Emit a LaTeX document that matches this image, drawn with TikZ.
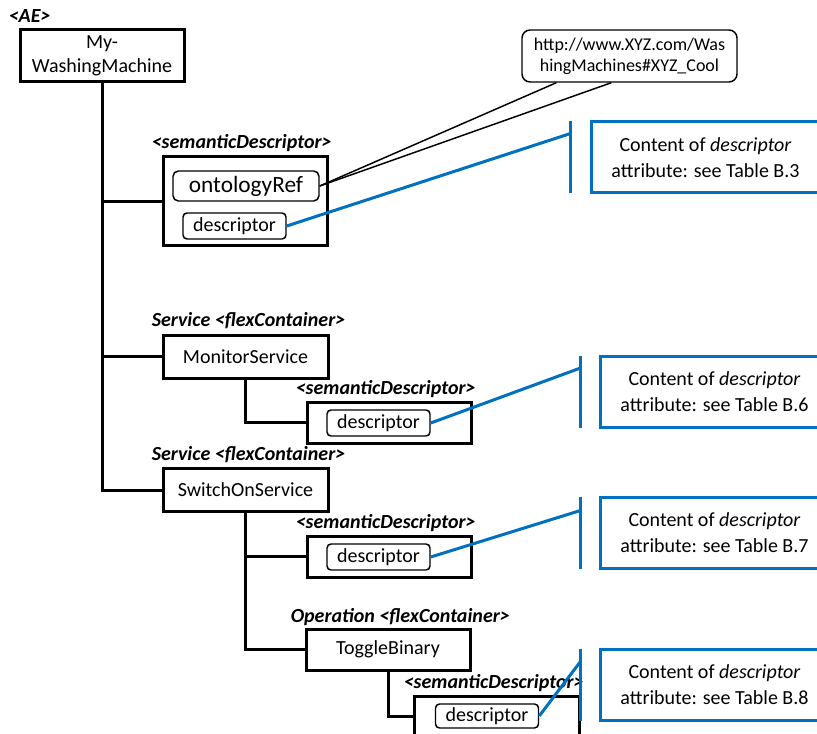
\documentclass[tikz,border=0pt]{standalone}
\usepackage{fontspec}
\setmainfont{Carlito}
\usetikzlibrary{calc}
\definecolor{bluelink}{RGB}{0,112,192}

\begin{document}
\begin{tikzpicture}[x=0.75pt,y=-0.75pt,
  font=\fontsize{15}{18}\selectfont,
  box/.style={draw,line width=2.25pt,minimum width=123pt,minimum height=32.25pt,inner sep=2pt},
  attr/.style={draw,rounded corners=3pt,line width=1.1pt,minimum width=77.25pt,minimum height=19.5pt,inner sep=1pt},
  tag/.style={anchor=base west,inner sep=0pt,font=\fontsize{15}{18}\selectfont\bfseries\itshape},
  note/.style={draw=bluelink,line width=2.25pt,minimum width=171.75pt,minimum height=53.25pt,align=center,font=\fontsize{15}{19.5}\selectfont},
  tree/.style={line width=2.25pt},
  link/.style={draw=bluelink,line width=2.25pt},
  ref/.style={line width=1.1pt}]
  \useasboundingbox (0,0) rectangle (817,734);
  \clip (0,0) rectangle (817,734);

  % resource tree
  \node[box,minimum height=39pt,align=center] (wm)  at (102,56)    {My-\\WashingMachine};
  \node[box,minimum height=66.75pt]           (sd1) at (245,201.5) {};
  \node[box,minimum width=123.75pt]           (mon) at (245.5,356.5) {MonitorService};
  \node[box,minimum height=30.75pt]           (sd2) at (389,422.5) {};
  \node[box,minimum width=123.75pt]           (sw)  at (245.5,490) {SwitchOnService};
  \node[box,minimum height=30.75pt]           (sd3) at (389,556.5) {};
  \node[box,minimum height=30.75pt]           (tog) at (388,649.5) {ToggleBinary};
  \node[box,minimum height=30.75pt,minimum width=123.75pt] (sd4) at (496.5,716.5) {};

  \node[tag] at ($(wm.north west)+(-10,-6)$)  {<AE>};
  \node[tag] at ($(sd1.north west)+(-10,-7)$) {<semanticDescriptor>};
  \node[tag] at ($(mon.north west)+(-10,-7)$) {Service <flexContainer>};
  \node[tag] at ($(sd2.north west)+(-10,-6)$) {<semanticDescriptor>};
  \node[tag] at ($(sw.north west)+(-10,-7)$)  {Service <flexContainer>};
  \node[tag] at ($(sd3.north west)+(-10,-6)$) {<semanticDescriptor>};
  \node[tag] at ($(tog.north west)+(-14,-5)$) {Operation <flexContainer>};
  \node[tag] at ($(sd4.north west)+(-9,-6)$)  {<semanticDescriptor>};

  % attributes
  \node[attr,minimum width=109.5pt,minimum height=22.5pt,rounded corners=4pt,
        font=\fontsize{17.5}{20}\selectfont] (ont) at (246,186) {ontologyRef};
  \node[attr] (d1) at (234.5,226) {descriptor};
  \node[attr] (d2) at (378.5,423) {descriptor};
  \node[attr] (d3) at (378.5,557) {descriptor};
  \node[attr,minimum height=18pt] (d4) at (487,716) {descriptor};

  % callouts
  \node[draw,rounded corners=6pt,line width=1.1pt,minimum width=161.25pt,minimum height=39pt,
        align=center,font=\fontsize{13.5}{16}\selectfont] (url) at (629.5,56)
        {http://www.XYZ.com/Was\\hingMachines\#XYZ\_Cool};
  \node[note] (n1) at (705.5,157.5) {Content of \emph{descriptor}\\attribute: see Table B.3};
  \node[note] (n2) at (714.5,392)   {Content of \emph{descriptor}\\attribute: see Table B.6};
  \node[note] (n3) at (714.5,532.5) {Content of \emph{descriptor}\\attribute: see Table B.7};
  \node[note] (n4) at (714.5,684.5) {Content of \emph{descriptor}\\attribute: see Table B.8};

  \coordinate (u1)  at ($(url.south west)+(35,0)$);
  \coordinate (u2)  at ($(url.south west)+(90,0)$);
  \coordinate (b1t) at ($(n1.north west)+(-19,1)$);
  \coordinate (b1b) at ($(n1.south west)+(-19,-1)$);
  \coordinate (b2t) at ($(n2.north west)+(-18,1)$);
  \coordinate (b2b) at ($(n2.south west)+(-18,-1)$);
  \coordinate (b3t) at ($(n3.north west)+(-18,1)$);
  \coordinate (b3b) at ($(n3.south west)+(-18,-1)$);
  \coordinate (b4t) at ($(n4.north west)+(-18,1)$);
  \coordinate (b4b) at ($(n4.south west)+(-18,-1)$);

  % tree lines
  \draw[tree] (wm.south) |- (sw.west);
  \draw[tree] (wm.south |- sd1.west) -- (sd1.west);
  \draw[tree] (wm.south |- mon.west) -- (mon.west);
  \draw[tree] (mon.south) |- (sd2.west);
  \draw[tree] (sw.south) |- (tog.west);
  \draw[tree] (sw.south |- sd3.west) -- (sd3.west);
  \draw[tree] (tog.south) |- (sd4.west);

  \draw[ref] (ont.east) -- (u1);
  \draw[ref] (ont.east) -- (u2);

  \draw[link] (b1t) -- (b1b);
  \draw[link] (b2t) -- (b2b);
  \draw[link] (b3t) -- (b3b);
  \draw[link] (b4t) -- (b4b);
  \draw[link] (d1.east) -- ($(b1t)+(0,12)$);
  \draw[link] (d2.east) -- ($(b2t)+(0,12)$);
  \draw[link] (d3.east) -- ($(b3t)+(0,14)$);
  \draw[link] (d4.east) -- ($(b4t)+(0,13)$);
\end{tikzpicture}
\end{document}
